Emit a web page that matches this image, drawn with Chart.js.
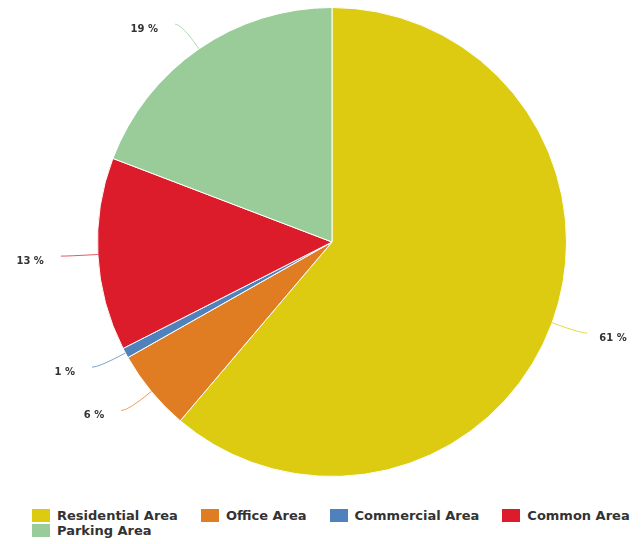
<!DOCTYPE html>
<html>
<head>
<meta charset="utf-8">
<script src="https://cdn.jsdelivr.net/npm/chart.js@4/dist/chart.umd.min.js"></script>
<style>
  body { margin: 0; background: #fff; }
  #wrap { position: relative; width: 644px; height: 544px; }
  #box { position: absolute; left: 0; top: 0; width: 644px; height: 484px; }
  #legend {
    position: absolute; left: 32px; top: 508px; width: 612px;
    display: flex; flex-wrap: wrap; column-gap: 23px;
    font-family: "DejaVu Sans", sans-serif; font-weight: bold; font-size: 13px;
    color: #333; line-height: 15px;
  }
  #legend span.item { display: flex; align-items: center; }
  #legend i { display: inline-block; width: 18px; height: 13px; margin-right: 7px; }
</style>
</head>
<body>
<div id="wrap">
  <div id="box"><canvas id="chart"></canvas></div>
  <div id="legend"></div>
</div>
<script>
// 면적 구성 비율 (%)
const labels = ["Residential Area", "Office Area", "Commercial Area", "Common Area", "Parking Area"];
const values = [61.2, 5.6, 0.7, 13.3, 19.2];
const colors = ["#DCCB10", "#E07D23", "#4F81BD", "#DC1C2B", "#99CC99"];

// 바깥 라벨 + 곡선 연결선
const outsideLabels = {
  id: "outsideLabels",
  afterDraw(chart) {
    const ctx = chart.ctx;
    const meta = chart.getDatasetMeta(0);
    const total = values.reduce((a, b) => a + b, 0);
    const dist = 30;
    ctx.save();
    ctx.font = "bold 10px 'DejaVu Sans', sans-serif";
    ctx.textBaseline = "middle";
    meta.data.forEach((arc, i) => {
      const a = (arc.startAngle + arc.endAngle) / 2;
      const r = arc.outerRadius;
      const cx = arc.x, cy = arc.y;
      const dx = Math.cos(a), dy = Math.sin(a);
      const sx = cx + r * dx, sy = cy + r * dy;
      const ly = cy + (r + dist) * dy;
      const side = dx >= 0 ? 1 : -1;
      const lx = cx + side * Math.sqrt(Math.max((r + dist) ** 2 - (ly - cy) ** 2, 0));
      const ex = lx + side * 7;

      ctx.strokeStyle = colors[i] + "bb";
      ctx.lineWidth = 1;
      ctx.beginPath();
      ctx.moveTo(sx, sy);
      ctx.quadraticCurveTo(lx, ly, ex, ly);
      ctx.stroke();

      ctx.fillStyle = "#333";
      const txt = Math.round(values[i] / total * 100) + " %";
      if (side > 0) {
        ctx.textAlign = "left";
        ctx.fillText(txt, ex + 12, ly + 5);
      } else {
        ctx.textAlign = "right";
        ctx.fillText(txt, ex - 17, ly + 5);
      }
    });
    ctx.restore();
  },
};

new Chart(document.getElementById("chart"), {
  type: "pie",
  data: {
    labels: labels,
    datasets: [
      {
        data: values,
        backgroundColor: colors,
        borderColor: "#fff",
        borderWidth: 1,
      },
    ],
  },
  options: {
    responsive: true,
    maintainAspectRatio: false,
    animation: false,
    layout: { padding: { top: 7, bottom: 7, left: 20, right: 0 } },
    plugins: {
      legend: { display: false },
      tooltip: { enabled: false },
    },
  },
  plugins: [outsideLabels],
});

const legend = document.getElementById("legend");
labels.forEach((l, i) => {
  const item = document.createElement("span");
  item.className = "item";
  item.innerHTML = '<i style="background:' + colors[i] + '"></i>' + l;
  legend.appendChild(item);
});
</script>
</body>
</html>
